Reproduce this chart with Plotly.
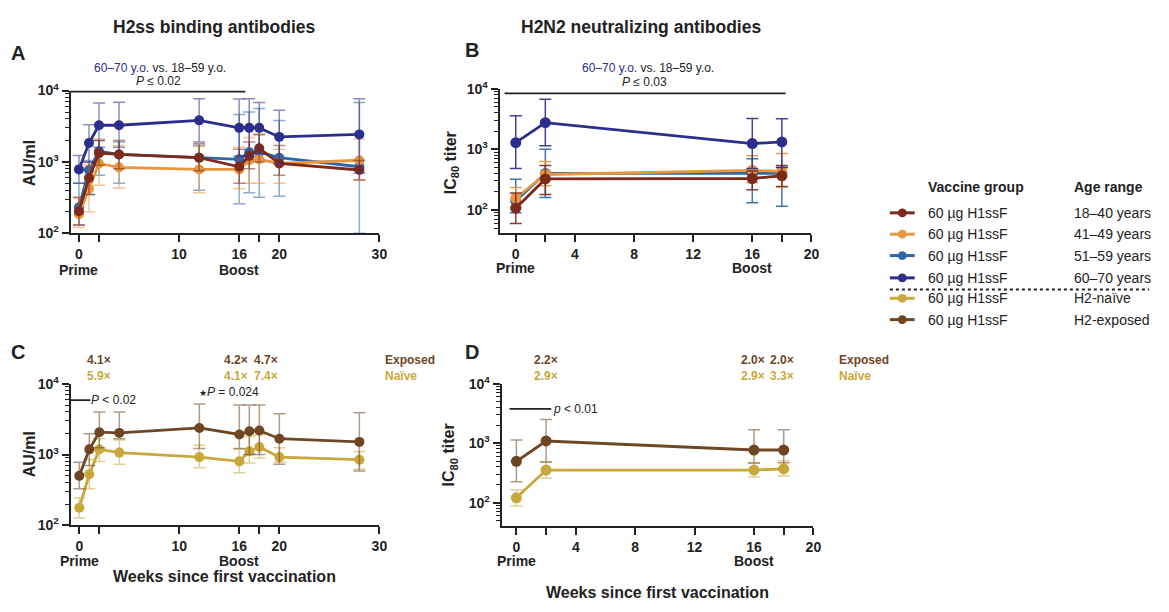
import plotly.graph_objects as go

W, H = 1169, 612
def px(x): return x / W
def py(y): return 1 - y / H

FONT = "Liberation Sans, Arial, sans-serif"
TXT = "#222222"

# ---------------- Data ----------------
# Panel A: H2ss binding antibodies (AU/ml) by age group
weeks_A = [0, 1, 2, 4, 12, 16, 17, 18, 20, 28]
a_18_40 = [204, 593, 1327, 1273, 1146, 855, 1208, 1550, 950, 770]
a_18_40_hi = [320, 1000, 2000, 2000, 1800, 1500, 1900, 2400, 1700, 1050]
a_18_40_lo = [130, 350, 900, 800, 750, 500, 800, 1000, 650, 560]
a_41_49 = [184, 420, 950, 838, 785, 785, 1054, 1087, 950, 1054]
a_41_49_hi = [310, 900, 2100, 1700, 1650, 1600, 2200, 2500, 1500, 2100]
a_41_49_lo = [120, 200, 470, 430, 370, 420, 500, 500, 500, 550]
a_51_59 = [231, 770, 1410, 1273, 1146, 1087, 1370, 1370, 1146, 855]
a_51_59_hi = [500, 1050, 2000, 1900, 1700, 4600, 5000, 5600, 3800, 6800]
a_51_59_lo = [130, 350, 650, 500, 400, 260, 370, 320, 330, 100]
a_60_70 = [785, 1835, 3265, 3265, 3820, 3000, 3000, 3000, 2240, 2430]
a_60_70_hi = [1230, 3330, 6700, 6850, 7700, 7600, 7700, 6800, 5300, 7700]
a_60_70_lo = [500, 1000, 1600, 1600, 1900, 1200, 1200, 1300, 950, 700]

# Panel B: H2N2 neutralizing antibodies (IC80 titer) by age group
weeks_B = [0, 2, 16, 18]
b_18_40 = [107, 324, 330, 366]
b_18_40_hi = [190, 540, 440, 540]
b_18_40_lo = [60, 180, 215, 243]
b_41_49 = [156, 384, 450, 430]
b_41_49_hi = [235, 627, 780, 850]
b_41_49_lo = [110, 250, 280, 240]
b_51_59 = [140, 400, 400, 400]
b_51_59_hi = [320, 1000, 700, 500]
b_51_59_lo = [90, 160, 132, 115]
b_60_70 = [1285, 2750, 1240, 1320]
b_60_70_hi = [3560, 6670, 3230, 3180]
b_60_70_lo = [482, 1140, 480, 500]

# Panel C: H2ss binding antibodies by H2 exposure
c_exposed = [500, 1183, 2065, 2020, 2370, 1920, 2135, 2180, 1673, 1507]
c_exposed_hi = [776, 1960, 4000, 4000, 5150, 5000, 5000, 5000, 3760, 3900]
c_exposed_lo = [328, 700, 1250, 1670, 1220, 1220, 1000, 1000, 730, 585]
c_naive = [178, 526, 1183, 1065, 920, 801, 1110, 1275, 920, 845]
c_naive_hi = [245, 850, 1670, 1600, 1350, 1200, 1800, 1900, 1250, 1100]
c_naive_lo = [127, 328, 800, 730, 650, 555, 760, 890, 776, 620]

# Panel D: H2N2 neutralizing antibodies by H2 exposure
d_exposed = [496, 1091, 769, 769]
d_exposed_hi = [1133, 2495, 1692, 1692]
d_exposed_lo = [225, 484, 466, 470]
d_naive = [121, 354, 354, 372]
d_naive_hi = [165, 484, 466, 509]
d_naive_lo = [88, 259, 272, 282]

# Tick definitions
ticks_AC = [0, 2, 10, 16, 18, 20, 30]
ticktext_AC = ["0", "", "10", "16", "", "20", "30"]
ticks_BD = [0, 2, 4, 8, 12, 16, 18, 20]
ticktext_BD = ["0", "", "4", "8", "12", "16", "", "20"]
ytick_vals = [100, 1000, 10000]
ytick_text = ["10<sup>2</sup>", "10<sup>3</sup>", "10<sup>4</sup>"]

# Legend entries
legend_groups = ["60 µg H1ssF"] * 6
legend_ranges = ["18–40 years", "41–49 years", "51–59 years", "60–70 years", "H2-naïve", "H2-exposed"]

# ---------------- Colors ----------------
C_RED = "#7c2a1c"
C_ORA = "#e5963f"
C_BLU = "#2f64a8"
C_NAV = "#2d2d8c"
C_NAI = "#c9a83b"
C_EXP = "#6e4624"
legend_colors = [C_RED, C_ORA, C_BLU, C_NAV, C_NAI, C_EXP]

def rgba(hexc, a):
    h = hexc.lstrip("#")
    r, g, b = int(h[0:2], 16), int(h[2:4], 16), int(h[4:6], 16)
    return f"rgba({r},{g},{b},{a})"

fig = go.Figure()

def add_series(x, y, hi, lo, color, xa, ya, msize=10, ealpha=0.55):
    plus = [h - v for h, v in zip(hi, y)]
    minus = [v - l for v, l in zip(y, lo)]
    fig.add_trace(go.Scatter(
        x=x, y=y, mode="lines+markers",
        line=dict(color=color, width=2.8),
        marker=dict(color=color, size=msize),
        error_y=dict(type="data", symmetric=False, array=plus, arrayminus=minus,
                     color=rgba(color, ealpha), thickness=1.5, width=6),
        xaxis=xa, yaxis=ya, showlegend=False, hoverinfo="skip"))

# Panel A
add_series(weeks_A, a_51_59, a_51_59_hi, a_51_59_lo, C_BLU, "x", "y")
add_series(weeks_A, a_41_49, a_41_49_hi, a_41_49_lo, C_ORA, "x", "y")
add_series(weeks_A, a_18_40, a_18_40_hi, a_18_40_lo, C_RED, "x", "y")
add_series(weeks_A, a_60_70, a_60_70_hi, a_60_70_lo, C_NAV, "x", "y")
# Panel B
add_series(weeks_B, b_51_59, b_51_59_hi, b_51_59_lo, C_BLU, "x2", "y2", 11, 0.9)
add_series(weeks_B, b_41_49, b_41_49_hi, b_41_49_lo, C_ORA, "x2", "y2", 11, 0.9)
add_series(weeks_B, b_18_40, b_18_40_hi, b_18_40_lo, C_RED, "x2", "y2", 11, 0.9)
add_series(weeks_B, b_60_70, b_60_70_hi, b_60_70_lo, C_NAV, "x2", "y2", 11, 0.9)
# Panel C
add_series(weeks_A, c_naive, c_naive_hi, c_naive_lo, C_NAI, "x3", "y3")
add_series(weeks_A, c_exposed, c_exposed_hi, c_exposed_lo, C_EXP, "x3", "y3")
# Panel D
add_series(weeks_B, d_naive, d_naive_hi, d_naive_lo, C_NAI, "x4", "y4", 11)
add_series(weeks_B, d_exposed, d_exposed_hi, d_exposed_lo, C_EXP, "x4", "y4", 11)

tickfont = dict(family=FONT, size=14, color=TXT, weight="bold")

def xaxis(dom, rng, tv, tt, anchor):
    return dict(domain=[px(dom[0]), px(dom[1])], range=rng, tickvals=tv, ticktext=tt,
                showline=True, linecolor=TXT, linewidth=2, ticks="outside", ticklen=7,
                tickwidth=2, tickcolor=TXT, showgrid=False, zeroline=False,
                tickfont=tickfont, anchor=anchor, fixedrange=True, ticklabelstandoff=0)

def yaxis(dom, rng, anchor):
    minor_vals = [m * 10 ** e for e in (1, 2, 3) for m in range(2, 10)]
    return dict(domain=[py(dom[1]), py(dom[0])], type="log", range=rng,
                tickvals=ytick_vals, ticktext=ytick_text,
                showline=True, linecolor=TXT, linewidth=2, ticks="outside", ticklen=7,
                tickwidth=2, tickcolor=TXT, showgrid=False, zeroline=False,
                tickfont=tickfont, anchor=anchor, fixedrange=True,
                minor=dict(ticks="outside", ticklen=4, tickwidth=1.2, tickcolor=TXT,
                           tickvals=minor_vals, showgrid=False))

fig.update_layout(
    width=W, height=H, margin=dict(l=0, r=0, t=0, b=0),
    paper_bgcolor="white", plot_bgcolor="white",
    font=dict(family=FONT, color=TXT),
    xaxis=xaxis((71, 382), [-0.843, 30], ticks_AC, ticktext_AC, "y"),
    yaxis=yaxis((83, 230), [2, 4], "x"),
    xaxis2=xaxis((503, 817), [-1.096, 20], ticks_BD, ticktext_BD, "y2"),
    yaxis2=yaxis((81, 230), [1.616, 4], "x2"),
    xaxis3=xaxis((71, 382), [-0.88, 30], ticks_AC, ticktext_AC, "y3"),
    yaxis3=yaxis((385, 531), [2, 4], "x3"),
    xaxis4=xaxis((505, 819), [-1.0, 20], ticks_BD, ticktext_BD, "y4"),
    yaxis4=yaxis((385, 532), [1.604, 4], "x4"),
)

anns = []
shapes = []

def ann(text, x, y, size=12, color=TXT, xanchor="center", angle=0, xref="paper"):
    anns.append(dict(text=text, x=(px(x) if xref == "paper" else x), y=py(y),
                     xref=xref, yref="paper", showarrow=False, xanchor=xanchor,
                     yanchor="middle", textangle=angle, borderpad=0,
                     font=dict(family=FONT, size=size, color=color)))

def hline(x0, x1, y, width=1.8, dash="solid", color=TXT):
    shapes.append(dict(type="line", xref="paper", yref="paper", x0=px(x0), x1=px(x1),
                       y0=py(y), y1=py(y), line=dict(color=color, width=width, dash=dash)))

# Titles & panel letters
ann("<b>H2ss binding antibodies</b>", 216, 17, 17.5)
ann("<b>H2N2 neutralizing antibodies</b>", 645, 17, 17.5)
ann("<b>A</b>", 18, 44, 20)
ann("<b>B</b>", 475, 41, 20)
ann("<b>C</b>", 18, 352, 20)
ann("<b>D</b>", 475, 352, 20)

# Y axis titles
ann("<b>AU/ml</b>", 30, 158, 16, angle=-90)
ann("<b>IC<sub>80</sub> titer</b>", 454, 157, 16, angle=-90)
ann("<b>AU/ml</b>", 30, 458, 16, angle=-90)
ann("<b>IC<sub>80</sub> titer</b>", 453, 458, 16, angle=-90)

# Prime / Boost
for xr, yv in (("x", 268), ("x2", 266), ("x3", 568), ("x4", 568)):
    ann("<b>Prime</b>", 0, yv, 14, xref=xr)
    ann("<b>Boost</b>", 16, yv, 14, xref=xr)

# X axis titles
ann("<b>Weeks since first vaccination</b>", 226, 584, 16)
ann("<b>Weeks since first vaccination</b>", 662, 600, 16)

# Panel A/B significance
ann(f"<span style='color:{C_NAV}'>60–70 y.o.</span> vs. 18–59 y.o.", 161, 60, 12)
ann("<i>P</i> ≤ 0.02", 160, 73, 12)
hline(71, 247, 84)
ann(f"<span style='color:{C_NAV}'>60–70 y.o.</span> vs. 18–59 y.o.", 652, 60, 12)
ann("<i>P</i> ≤ 0.03", 649, 74, 12)
hline(508, 791, 86)

# Panel C annotations
ann("<b>4.1×</b>", 100, 361, 12, C_EXP)
ann("<b>5.9×</b>", 100, 377, 12, C_NAI)
ann("<b>4.2×</b>", 238, 361, 12, C_EXP)
ann("<b>4.7×</b>", 268, 361, 12, C_EXP)
ann("<b>4.1×</b>", 238, 377, 12, C_NAI)
ann("<b>7.4×</b>", 268, 377, 12, C_NAI)
ann("<b>Exposed</b>", 387, 361, 12, C_EXP, xanchor="left")
ann("<b>Naïve</b>", 387, 377, 12, C_NAI, xanchor="left")
hline(71, 91, 402)
ann("<i>P</i> < 0.02", 91, 402, 12, xanchor="left")
ann("<span style='font-size:9px'>★</span><i>P</i> = 0.024", 199, 394, 12, xanchor="left")

# Panel D annotations
ann("<b>2.2×</b>", 550, 361, 12, C_EXP)
ann("<b>2.9×</b>", 550, 377, 12, C_NAI)
ann("<b>2.0×</b>", 758, 361, 12, C_EXP)
ann("<b>2.0×</b>", 787, 361, 12, C_EXP)
ann("<b>2.9×</b>", 758, 377, 12, C_NAI)
ann("<b>3.3×</b>", 787, 377, 12, C_NAI)
ann("<b>Exposed</b>", 844, 361, 12, C_EXP, xanchor="left")
ann("<b>Naïve</b>", 844, 377, 12, C_NAI, xanchor="left")
hline(513, 555, 411)
ann("<i>p</i> < 0.01", 556, 411, 12, xanchor="left")

# Legend
ann("<b>Vaccine group</b>", 933, 182, 14, xanchor="left")
ann("<b>Age range</b>", 1080, 182, 14, xanchor="left")
row_y = [209, 231, 253, 276, 297, 319]
for yv, grp, rng_txt, col in zip(row_y, legend_groups, legend_ranges, legend_colors):
    hline(896, 921, yv, width=3, color=col)
    r = 4.5
    shapes.append(dict(type="circle", xref="paper", yref="paper",
                       x0=px(908.5 - r), x1=px(908.5 + r), y0=py(yv + r), y1=py(yv - r),
                       fillcolor=col, line=dict(color=col, width=0)))
    ann(grp, 933, yv, 14, xanchor="left")
    ann(rng_txt, 1080, yv, 14, xanchor="left")
hline(896, 1157, 288, width=2, dash="dot")

fig.update_layout(annotations=anns, shapes=shapes)
fig.write_html("out.html")
